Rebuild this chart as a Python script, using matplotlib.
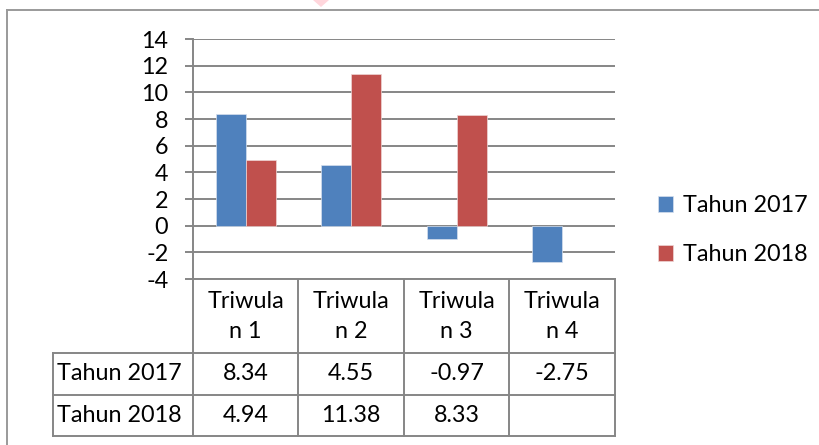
import matplotlib.pyplot as plt
import numpy as np
from matplotlib.lines import Line2D
from matplotlib.patches import Polygon

plt.rcParams['font.family'] = ['Lato', 'DejaVu Sans']

categories = ['Triwulan 1', 'Triwulan 2', 'Triwulan 3', 'Triwulan 4']
header_lines = [('Triwula', 'n 1'), ('Triwula', 'n 2'), ('Triwula', 'n 3'), ('Triwula', 'n 4')]
series_names = ['Tahun 2017', 'Tahun 2018']
tahun_2017 = [8.34, 4.55, -0.97, -2.75]
tahun_2018 = [4.94, 11.38, 8.33, None]
colors = ['#4F81BD', '#C0504D']
yticks = [-4, -2, 0, 2, 4, 6, 8, 10, 12, 14]

W, H = 820, 445
GRID = '#868686'
FS = 16.8

fig = plt.figure(figsize=(W / 100, H / 100), dpi=100)

# background layer in pixel coordinates for the frame and the data table
bg = fig.add_axes([0, 0, 1, 1], zorder=0)
bg.set_xlim(0, W)
bg.set_ylim(H, 0)
bg.axis('off')

# plot area (pixels): x 193..615, y 39..279
px_left, px_right, px_top, px_bot = 193, 615, 39, 279
ax = fig.add_axes([px_left / W, 1 - px_bot / H,
                   (px_right - px_left) / W, (px_bot - px_top) / H], zorder=2)
ax.patch.set_alpha(0)

n = len(categories)
x = np.arange(n) + 0.5
w = 0.285
vals17 = np.array(tahun_2017, dtype=float)
vals18 = np.array([np.nan if v is None else v for v in tahun_2018], dtype=float)
b17 = ax.bar(x - w / 2, vals17, w, color=colors[0], edgecolor='#D6E0EE', linewidth=0.5, zorder=3)
b18 = ax.bar(x + w / 2, vals18, w, color=colors[1], edgecolor='#EED6D5', linewidth=0.5, zorder=3)

ax.set_xlim(0, n)
ax.set_ylim(-4, 14)
ax.set_yticks(yticks)
ax.set_yticklabels([str(t) for t in yticks], fontsize=FS)
ax.set_xticks([])
ax.yaxis.grid(True, color=GRID, linewidth=1.4, zorder=1)
ax.set_axisbelow(True)
for s in ['top', 'right', 'bottom']:
    ax.spines[s].set_visible(False)
ax.spines['left'].set_color(GRID)
ax.spines['left'].set_linewidth(1.4)
ax.tick_params(axis='y', length=5.8, width=1.4, color=GRID, pad=12, labelcolor='black')

# legend
ax.legend([b17, b18], series_names, loc='center left', frameon=False,
          bbox_to_anchor=((649 - px_left) / (px_right - px_left), (px_bot - 230) / (px_bot - px_top)),
          fontsize=FS, handlelength=0.65, handleheight=0.65, handletextpad=0.4,
          labelspacing=1.2, borderaxespad=0)

def hline(x0, x1, y, c=GRID):
    bg.add_line(Line2D([x0, x1], [y, y], color=c, linewidth=1.4))

def vline(xp, y0, y1, c=GRID):
    bg.add_line(Line2D([xp, xp], [y0, y1], color=c, linewidth=1.4))

# outer chart frame
hline(7, W, 10, '#9A9A9A')
vline(7, 10, H, '#9A9A9A')

# data table under the axis
col_w = (px_right - px_left) / n
row_tops = [353, 395]
row_h = 41.5
tab_left = 53
tab_bot = 436
hline(px_left, px_right, px_bot)
for y in row_tops + [tab_bot]:
    hline(tab_left, px_right, y)
vline(tab_left, row_tops[0], tab_bot)
for i in range(n + 1):
    vline(px_left + i * col_w, px_bot, tab_bot)

for i, (l1, l2) in enumerate(header_lines):
    cx = px_left + (i + 0.5) * col_w
    bg.text(cx, 301, l1, ha='center', va='center', fontsize=FS)
    bg.text(cx, 331, l2, ha='center', va='center', fontsize=FS)

for r, (name, vals) in enumerate(zip(series_names, [tahun_2017, tahun_2018])):
    cy = row_tops[r] + row_h / 2
    bg.text(tab_left + 4, cy, name, ha='left', va='center', fontsize=FS)
    for i, v in enumerate(vals):
        if v is None:
            continue
        cx = px_left + (i + 0.5) * col_w
        bg.text(cx, cy, f'{v:.2f}', ha='center', va='center', fontsize=FS)

# small marker clipped at the top edge
bg.add_patch(Polygon([[313, 0], [329, 0], [321, 7]], closed=True, color='#FFD6DC', lw=0))

fig.savefig('out.png', dpi=100)
